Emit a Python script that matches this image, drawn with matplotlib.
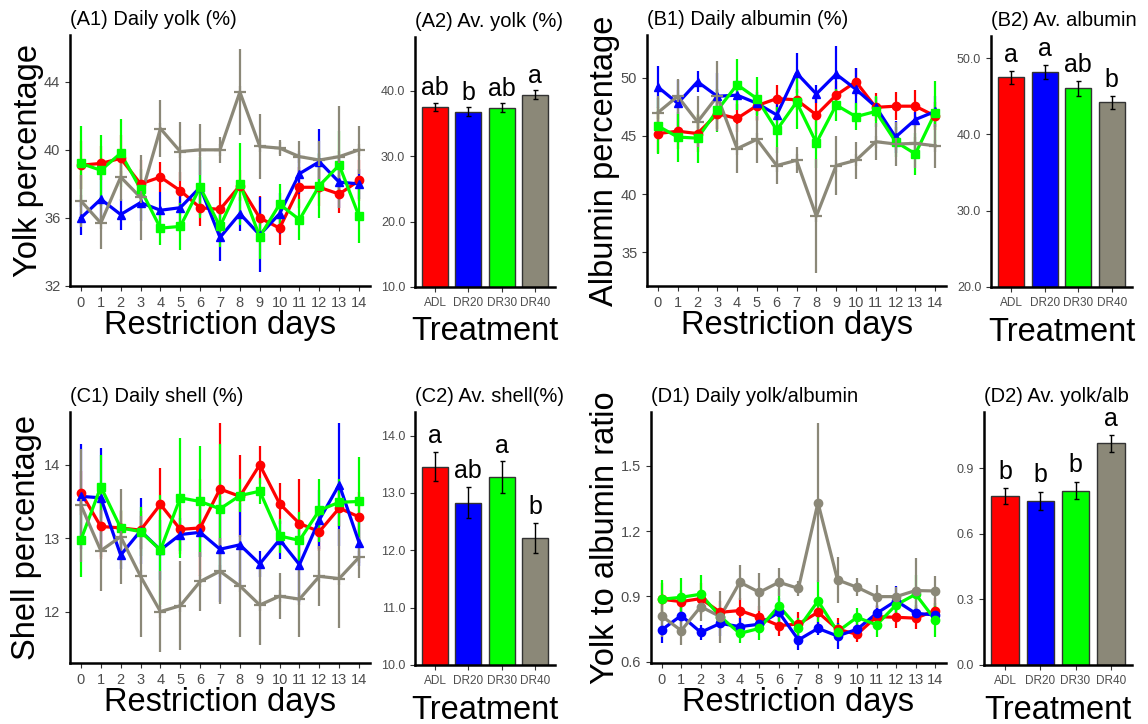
import matplotlib.pyplot as plt
import numpy as np

plt.rcParams['font.family'] = ['Liberation Sans', 'DejaVu Sans']

days = list(range(15))
treatments = ['ADL', 'DR20', 'DR30', 'DR40']
colors = ['#FF0000', '#0000FF', '#00FF00', '#8B8878']

# (A1) daily yolk %
yolk_adl = [39.1, 39.2, 39.5, 38.0, 38.4, 37.6, 36.6, 36.5, 37.9, 36.0, 35.4, 37.8, 37.8, 37.4, 38.2]
yolk_adl_se = [1.4, 1.0, 1.35, 1.4, 0.9, 1.1, 1.05, 1.3, 0.9, 1.3, 1.0, 1.2, 1.1, 1.1, 1.2]
yolk_dr20 = [36.0, 37.1, 36.2, 36.9, 36.45, 36.6, 37.8, 34.85, 36.25, 35.0, 36.25, 38.6, 39.3, 38.1, 38.0]
yolk_dr20_se = [1.0, 1.4, 0.9, 1.1, 1.1, 0.9, 1.6, 1.4, 1.0, 2.2, 1.2, 1.2, 1.9, 1.5, 0.9]
yolk_dr30 = [39.2, 38.8, 39.8, 37.7, 35.4, 35.5, 37.8, 35.5, 38.0, 34.9, 36.8, 35.9, 37.9, 39.1, 36.1]
yolk_dr30_se = [2.2, 2.1, 2.0, 1.2, 1.0, 1.4, 1.8, 1.2, 2.4, 1.3, 1.2, 1.2, 1.9, 2.0, 1.6]
yolk_dr40 = [37.0, 35.7, 38.4, 37.2, 41.25, 39.9, 40.0, 40.0, 43.4, 40.2, 40.1, 39.6, 39.4, 39.6, 40.0]
yolk_dr40_se = [1.55, 1.55, 1.4, 2.5, 1.7, 1.75, 1.5, 0.75, 2.55, 1.9, 0.45, 0.9, 1.1, 3.0, 1.4]

# (B1) daily albumin %
alb_adl = [45.2, 45.4, 45.2, 46.9, 46.5, 47.6, 48.2, 48.1, 46.8, 48.5, 49.65, 47.45, 47.55, 47.55, 46.7]
alb_adl_se = [1.65, 1.5, 1.55, 1.35, 1.2, 1.3, 1.15, 0.9, 1.6, 1.2, 1.2, 1.2, 1.2, 1.35, 1.2]
alb_dr20 = [49.2, 47.8, 49.65, 48.4, 48.5, 47.8, 46.8, 50.4, 48.6, 50.3, 49.0, 47.5, 44.9, 46.4, 47.1]
alb_dr20_se = [1.8, 2.0, 0.9, 2.0, 1.3, 1.0, 1.3, 1.7, 0.8, 2.4, 1.8, 0.85, 1.4, 0.65, 1.3]
alb_dr30 = [45.85, 44.9, 44.8, 47.2, 49.4, 48.2, 45.5, 47.9, 44.4, 47.65, 46.65, 47.1, 44.5, 43.45, 47.0]
alb_dr30_se = [2.4, 2.15, 2.1, 1.85, 2.2, 1.85, 2.0, 2.3, 2.2, 1.35, 1.15, 1.3, 1.3, 1.8, 2.7]
alb_dr40 = [47.0, 48.4, 46.2, 48.4, 43.9, 44.7, 42.45, 42.9, 38.1, 42.45, 42.9, 44.5, 44.3, 44.35, 44.15]
alb_dr40_se = [1.4, 1.5, 2.2, 3.0, 2.1, 2.0, 1.6, 1.1, 4.9, 2.5, 1.6, 1.6, 1.9, 2.1, 1.9]

# (C1) daily shell %
shell_adl = [13.62, 13.16, 13.14, 13.11, 13.46, 13.12, 13.14, 13.67, 13.57, 14.0, 13.47, 13.2, 13.09, 13.41, 13.29]
shell_adl_se = [0.3, 0.45, 0.23, 0.26, 0.49, 0.34, 0.66, 0.9, 0.56, 0.26, 0.28, 0.61, 0.27, 0.26, 0.34]
shell_dr20 = [13.57, 13.55, 12.77, 13.1, 12.84, 13.05, 13.08, 12.85, 12.91, 12.65, 12.98, 12.64, 13.25, 13.73, 12.94]
shell_dr20_se = [0.72, 0.68, 0.19, 0.45, 0.41, 0.22, 0.34, 0.72, 0.57, 0.18, 0.26, 0.51, 0.4, 0.84, 0.32]
shell_dr30 = [12.98, 13.7, 13.14, 13.09, 12.84, 13.55, 13.5, 13.4, 13.58, 13.64, 13.03, 12.97, 13.38, 13.49, 13.5]
shell_dr30_se = [0.51, 0.43, 0.24, 0.33, 0.75, 0.82, 0.75, 0.89, 0.22, 0.18, 0.23, 0.39, 0.43, 0.32, 0.6]
shell_dr40 = [13.45, 12.83, 13.02, 12.48, 12.0, 12.08, 12.41, 12.55, 12.35, 12.09, 12.21, 12.17, 12.48, 12.45, 12.74]
shell_dr40_se = [0.77, 0.55, 0.65, 0.82, 0.55, 0.61, 0.4, 0.45, 0.69, 0.55, 0.31, 0.52, 0.41, 0.68, 0.28]

# (D1) daily yolk/albumin ratio
ratio_adl = [0.887, 0.876, 0.89, 0.827, 0.835, 0.804, 0.766, 0.773, 0.827, 0.749, 0.726, 0.807, 0.804, 0.80, 0.835]
ratio_adl_se = [0.073, 0.054, 0.073, 0.054, 0.058, 0.05, 0.05, 0.057, 0.057, 0.05, 0.035, 0.05, 0.05, 0.05, 0.058]
ratio_dr20 = [0.746, 0.812, 0.735, 0.776, 0.761, 0.772, 0.827, 0.70, 0.753, 0.718, 0.749, 0.822, 0.88, 0.822, 0.815]
ratio_dr20_se = [0.06, 0.065, 0.035, 0.06, 0.04, 0.035, 0.065, 0.045, 0.03, 0.06, 0.04, 0.04, 0.07, 0.04, 0.04]
ratio_dr30 = [0.887, 0.896, 0.91, 0.807, 0.73, 0.753, 0.856, 0.753, 0.879, 0.738, 0.804, 0.769, 0.861, 0.91, 0.792]
ratio_dr30_se = [0.088, 0.088, 0.088, 0.04, 0.046, 0.054, 0.077, 0.046, 0.095, 0.035, 0.042, 0.054, 0.054, 0.088, 0.077]
ratio_dr40 = [0.81, 0.743, 0.853, 0.807, 0.965, 0.919, 0.965, 0.937, 1.331, 0.976, 0.942, 0.899, 0.899, 0.927, 0.925]
ratio_dr40_se = [0.096, 0.065, 0.065, 0.12, 0.08, 0.088, 0.065, 0.035, 0.364, 0.107, 0.042, 0.054, 0.042, 0.15, 0.069]

# averages per treatment (bars)
av_yolk = [37.56, 36.8, 37.4, 39.4]
av_yolk_se = [0.64, 0.7, 0.69, 0.69]
av_yolk_letters = ['ab', 'b', 'ab', 'a']
av_alb = [47.47, 48.17, 46.03, 44.19]
av_alb_se = [0.87, 0.94, 0.94, 0.87]
av_alb_letters = ['a', 'a', 'ab', 'b']
av_shell = [13.46, 12.83, 13.27, 12.22]
av_shell_se = [0.25, 0.27, 0.28, 0.26]
av_shell_letters = ['a', 'ab', 'a', 'b']
av_ratio = [0.773, 0.752, 0.798, 1.014]
av_ratio_se = [0.036, 0.042, 0.04, 0.038]
av_ratio_letters = ['b', 'b', 'b', 'a']

TICK_COL = '#4D4D4D'
BIG = 23.5


def style_axes(ax):
    ax.spines['top'].set_visible(False)
    ax.spines['right'].set_visible(False)
    ax.spines['left'].set_linewidth(1.8)
    ax.spines['bottom'].set_linewidth(1.8)
    ax.tick_params(color='#333333', length=3.5, width=0.8, labelcolor=TICK_COL)


def line_panel(rect, series, errs, markers, ylim, yticks, title, ylabel, ylab_x):
    ax = fig.add_axes(rect)
    # errorbars first, then lines, then points (like ggplot layers)
    for vals, se, c in zip(series, errs, colors):
        ax.errorbar(days, vals, yerr=se, fmt='none', ecolor=c, elinewidth=1.6, capsize=0)
    for vals, c in zip(series, colors):
        ax.plot(days, vals, color=c, lw=2.3)
    for vals, c, m in zip(series, colors, markers):
        if m == '+':
            ax.plot(days, vals, ls='none', marker='+', ms=9, mew=1.6, color=c)
        else:
            ax.plot(days, vals, ls='none', marker=m, ms=6, color=c)
    ax.set_xlim(-0.55, 14.55)
    ax.set_ylim(*ylim)
    ax.set_xticks(days)
    ax.set_yticks(yticks)
    ax.tick_params(labelsize=10.5)
    style_axes(ax)
    ax.set_title(title, loc='left', fontsize=14.5, pad=7)
    ax.set_xlabel('Restriction days', fontsize=BIG)
    ax.xaxis.set_label_coords(0.5, -0.097)
    ax.set_ylabel(ylabel, fontsize=BIG)
    ax.yaxis.set_label_coords(ylab_x, 0.5)
    return ax


def bar_panel(rect, vals, se, letters, ylim, yticks, title, off):
    ax = fig.add_axes(rect)
    x = np.arange(1, 5)
    ax.bar(x, vals, width=0.78, color=colors, edgecolor='#333333', linewidth=1.0, zorder=2)
    ax.errorbar(x, vals, yerr=se, fmt='none', ecolor='black', elinewidth=1.0, capsize=1.8, capthick=1.0, zorder=3)
    rng = ylim[1] - ylim[0]
    for xi, v, s, lab in zip(x, vals, se, letters):
        ax.text(xi, v + s + off * rng, lab, ha='center', va='baseline', fontsize=18)
    ax.set_xlim(0.4, 4.6)
    ax.set_ylim(*ylim)
    ax.set_xticks(x)
    ax.set_xticklabels(treatments)
    ax.set_yticks(yticks)
    ax.set_yticklabels(['%.1f' % t for t in yticks])
    ax.tick_params(axis='y', labelsize=9)
    ax.tick_params(axis='x', labelsize=8.5)
    style_axes(ax)
    ax.set_title(title, loc='left', fontsize=14.5, pad=7)
    ax.set_xlabel('Treatment', fontsize=BIG)
    ax.xaxis.set_label_coords(0.5, -0.118)
    return ax


fig = plt.figure(figsize=(11.48, 7.24), dpi=100)

sym = ['o', '^', 's', '+']

line_panel([0.061, 0.605, 0.2613, 0.3467],
           [yolk_adl, yolk_dr20, yolk_dr30, yolk_dr40],
           [yolk_adl_se, yolk_dr20_se, yolk_dr30_se, yolk_dr40_se],
           sym, (32, 46.75), [32, 36, 40, 44], '(A1) Daily yolk (%)', 'Yolk percentage', -0.087)
bar_panel([0.3615, 0.6036, 0.122, 0.345], av_yolk, av_yolk_se, av_yolk_letters,
          (10, 48.2), [10.0, 20.0, 30.0, 40.0], '(A2) Av. yolk (%)', 0.029)

line_panel([0.5636, 0.605, 0.2605, 0.3467],
           [alb_adl, alb_dr20, alb_dr30, alb_dr40],
           [alb_adl_se, alb_dr20_se, alb_dr30_se, alb_dr40_se],
           sym, (32.1, 53.67), [35, 40, 45, 50], '(B1) Daily albumin (%)', 'Albumin percentage', -0.089)
bar_panel([0.8632, 0.6036, 0.1228, 0.3467], av_alb, av_alb_se, av_alb_letters,
          (20, 52.9), [20.0, 30.0, 40.0, 50.0], '(B2) Av. albumin', 0.035)

line_panel([0.061, 0.0843, 0.2613, 0.3467],
           [shell_adl, shell_dr20, shell_dr30, shell_dr40],
           [shell_adl_se, shell_dr20_se, shell_dr30_se, shell_dr40_se],
           sym, (11.3, 14.72), [12, 13, 14], '(C1) Daily shell (%)', 'Shell percentage', -0.093)
bar_panel([0.3615, 0.0815, 0.122, 0.3494], av_shell, av_shell_se, av_shell_letters,
          (10, 14.41), [10.0, 11.0, 12.0, 13.0, 14.0], '(C2) Av. shell(%)', 0.035)

line_panel([0.567, 0.0843, 0.257, 0.3467],
           [ratio_adl, ratio_dr20, ratio_dr30, ratio_dr40],
           [ratio_adl_se, ratio_dr20_se, ratio_dr30_se, ratio_dr40_se],
           ['o', 'o', 'o', 'o'], (0.594, 1.748), [0.6, 0.9, 1.2, 1.5],
           '(D1) Daily yolk/albumin', 'Yolk to albumin ratio', -0.103)
bar_panel([0.857, 0.0815, 0.129, 0.3494], av_ratio, av_ratio_se, av_ratio_letters,
          (0, 1.158), [0.0, 0.3, 0.6, 0.9], '(D2) Av. yolk/alb', 0.038)

plt.savefig('out.png', dpi=100)
